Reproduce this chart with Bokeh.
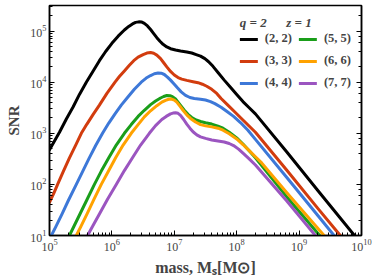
import numpy as np
from bokeh.plotting import figure
from bokeh.models import Range1d, LogAxis, Legend, LegendItem, CustomJSTickFormatter
from bokeh.embed import file_html
from bokeh.resources import INLINE

labels = ["(2, 2)", "(3, 3)", "(4, 4)", "(5, 5)", "(6, 6)", "(7, 7)"]
colors = ["#000000", "#d23c0e", "#3d78d8", "#1a9e1a", "#ffa200", "#9b55c0"]

# log10(mass) and log10(SNR)
lm_22 = [5.0, 5.08, 5.16, 5.27, 5.38, 5.48, 5.59, 5.7, 5.8, 5.9, 6.0, 6.1, 6.2, 6.27, 6.33, 6.38, 6.43, 6.48, 6.52, 6.57, 6.62, 6.67, 6.72, 6.77, 6.82, 6.88, 6.94, 7.02, 7.1, 7.2, 7.28, 7.35, 7.42, 7.49, 7.55, 7.62, 7.7, 7.8, 7.9, 8.0, 8.1, 8.2, 8.3, 8.8, 9.3, 9.9]
ls_22 = [2.68, 2.85, 3.02, 3.28, 3.52, 3.76, 4.0, 4.22, 4.42, 4.60, 4.76, 4.90, 5.02, 5.09, 5.14, 5.17, 5.18, 5.175, 5.15, 5.10, 5.03, 4.95, 4.87, 4.80, 4.74, 4.69, 4.655, 4.63, 4.61, 4.59, 4.57, 4.54, 4.51, 4.46, 4.40, 4.31, 4.19, 4.04, 3.90, 3.76, 3.62, 3.50, 3.38, 2.64, 1.88, 0.98]

lm_33 = [5.0, 5.07, 5.13, 5.22, 5.32, 5.42, 5.51, 5.6, 5.7, 5.8, 5.92, 6.05, 6.12, 6.2, 6.28, 6.35, 6.42, 6.5, 6.56, 6.62, 6.67, 6.72, 6.78, 6.83, 6.88, 6.94, 7.0, 7.06, 7.12, 7.2, 7.3, 7.38, 7.45, 7.52, 7.6, 7.68, 7.75, 7.85, 7.95, 8.1, 8.3, 8.8, 9.3, 9.66]
ls_33 = [1.65, 1.83, 2.0, 2.25, 2.52, 2.77, 3.0, 3.18, 3.37, 3.55, 3.78, 4.0, 4.11, 4.22, 4.33, 4.42, 4.49, 4.54, 4.57, 4.58, 4.565, 4.53, 4.46, 4.38, 4.30, 4.21, 4.14, 4.09, 4.06, 4.035, 4.01, 3.99, 3.96, 3.92, 3.86, 3.78, 3.68, 3.56, 3.44, 3.26, 3.02, 2.28, 1.53, 1.0]

lm_44 = [5.03, 5.1, 5.2, 5.3, 5.43, 5.53, 5.63, 5.74, 5.85, 5.95, 6.05, 6.15, 6.25, 6.36, 6.47, 6.55, 6.62, 6.68, 6.74, 6.79, 6.84, 6.89, 6.94, 7.0, 7.05, 7.11, 7.18, 7.25, 7.32, 7.42, 7.5, 7.58, 7.65, 7.75, 7.85, 7.95, 8.06, 8.18, 8.3, 8.8, 9.3, 9.56]
ls_44 = [1.0, 1.17, 1.42, 1.68, 2.0, 2.25, 2.5, 2.76, 3.0, 3.2, 3.38, 3.55, 3.70, 3.86, 4.0, 4.08, 4.13, 4.165, 4.18, 4.175, 4.15, 4.10, 4.04, 3.96, 3.89, 3.81, 3.74, 3.70, 3.68, 3.665, 3.65, 3.62, 3.58, 3.51, 3.42, 3.33, 3.21, 3.06, 2.88, 2.14, 1.39, 1.0]

lm_55 = [5.32, 5.4, 5.5, 5.6, 5.72, 5.83, 5.95, 6.07, 6.2, 6.31, 6.42, 6.52, 6.62, 6.7, 6.78, 6.83, 6.88, 6.93, 6.97, 7.02, 7.06, 7.11, 7.16, 7.22, 7.28, 7.35, 7.42, 7.5, 7.6, 7.7, 7.78, 7.88, 8.0, 8.1, 8.2, 8.3, 8.4, 8.8, 9.33]
ls_55 = [1.0, 1.2, 1.45, 1.7, 2.0, 2.26, 2.52, 2.77, 3.0, 3.17, 3.33, 3.45, 3.56, 3.63, 3.69, 3.72, 3.74, 3.735, 3.715, 3.67, 3.61, 3.53, 3.45, 3.37, 3.31, 3.26, 3.23, 3.205, 3.18, 3.14, 3.10, 3.02, 2.91, 2.79, 2.66, 2.52, 2.37, 1.76, 1.0]

lm_66 = [5.43, 5.5, 5.6, 5.71, 5.83, 5.95, 6.06, 6.18, 6.31, 6.42, 6.52, 6.62, 6.72, 6.8, 6.86, 6.91, 6.95, 7.0, 7.04, 7.09, 7.14, 7.2, 7.26, 7.34, 7.42, 7.5, 7.6, 7.7, 7.78, 7.88, 8.0, 8.1, 8.2, 8.3, 8.4, 8.8, 9.40]
ls_66 = [1.0, 1.17, 1.42, 1.7, 2.0, 2.27, 2.52, 2.77, 3.0, 3.17, 3.32, 3.44, 3.54, 3.61, 3.645, 3.665, 3.67, 3.65, 3.61, 3.53, 3.45, 3.36, 3.29, 3.22, 3.17, 3.145, 3.125, 3.10, 3.06, 2.99, 2.89, 2.78, 2.66, 2.54, 2.42, 1.84, 1.0]

lm_77 = [5.61, 5.7, 5.8, 5.93, 6.07, 6.2, 6.33, 6.46, 6.6, 6.7, 6.8, 6.87, 6.94, 6.98, 7.02, 7.06, 7.1, 7.15, 7.2, 7.25, 7.3, 7.36, 7.42, 7.5, 7.6, 7.7, 7.8, 7.88, 7.95, 8.03, 8.11, 8.2, 8.3, 8.8, 9.26]
ls_77 = [1.0, 1.2, 1.42, 1.71, 2.0, 2.27, 2.52, 2.77, 3.0, 3.15, 3.27, 3.33, 3.38, 3.395, 3.40, 3.39, 3.35, 3.27, 3.18, 3.10, 3.03, 2.97, 2.93, 2.90, 2.87, 2.85, 2.83, 2.80, 2.76, 2.69, 2.60, 2.50, 2.38, 1.68, 1.0]

series = [(lm_22, ls_22), (lm_33, ls_33), (lm_44, ls_44),
          (lm_55, ls_55), (lm_66, ls_66), (lm_77, ls_77)]

FONT = "Liberation Serif"

p = figure(width=372, height=278, x_axis_type="log", y_axis_type="log",
           x_range=Range1d(1e5, 1e10), y_range=Range1d(10, 10 ** 5.50),
           output_backend="svg", toolbar_location=None,
           min_border_left=49, min_border_right=11, min_border_top=5, min_border_bottom=40)

renderers = []
for (lm, ls), c in zip(series, colors):
    r = p.line(10 ** np.array(lm), 10 ** np.array(ls), line_color=c, line_width=3,
               line_join="round", line_cap="round")
    renderers.append(r)

p.grid.visible = False
p.outline_line_color = "black"
p.outline_line_width = 1.5

p.xaxis.axis_label = "mass, Mₛ[M⊙]"
p.yaxis.axis_label = "SNR"
for ax in [p.xaxis[0], p.yaxis[0]]:
    ax.axis_label_text_font = FONT
    ax.axis_label_text_font_style = "bold"
    ax.axis_label_text_font_size = "16px"
    ax.major_label_text_font = FONT
    ax.major_label_text_font_size = "12px"
    ax.major_tick_in = 5
    ax.major_tick_out = 0
    ax.minor_tick_in = 3
    ax.minor_tick_out = 0
    ax.axis_line_width = 1.5
    ax.major_label_standoff = 3
    ax.axis_label_standoff = 5
p.yaxis.axis_label_text_font_size = "15px"

yr = LogAxis(formatter=CustomJSTickFormatter(code="return ' '"),
             major_label_text_font_size="6px", major_label_standoff=0,
             major_tick_in=5, major_tick_out=0,
             minor_tick_in=3, minor_tick_out=0, axis_line_width=1.5)
p.add_layout(yr, "right")

items = [LegendItem(label=labels[i], renderers=[renderers[i]]) for i in range(6)]
leg = Legend(items=items, ncols=2, location="top_right",
             title="q = 2\u2003\u2002z = 1", title_text_font=FONT, title_text_font_style="bold italic",
             title_text_font_size="13px", title_standoff=0,
             label_text_font=FONT, label_text_font_style="bold",
             label_text_font_size="12.5px", glyph_width=18, glyph_height=14, label_height=14,
             label_standoff=7, spacing=7, border_line_alpha=0, background_fill_alpha=0,
             padding=4, margin=6)
p.add_layout(leg)

open("out.html", "w").write(file_html(p, INLINE))
